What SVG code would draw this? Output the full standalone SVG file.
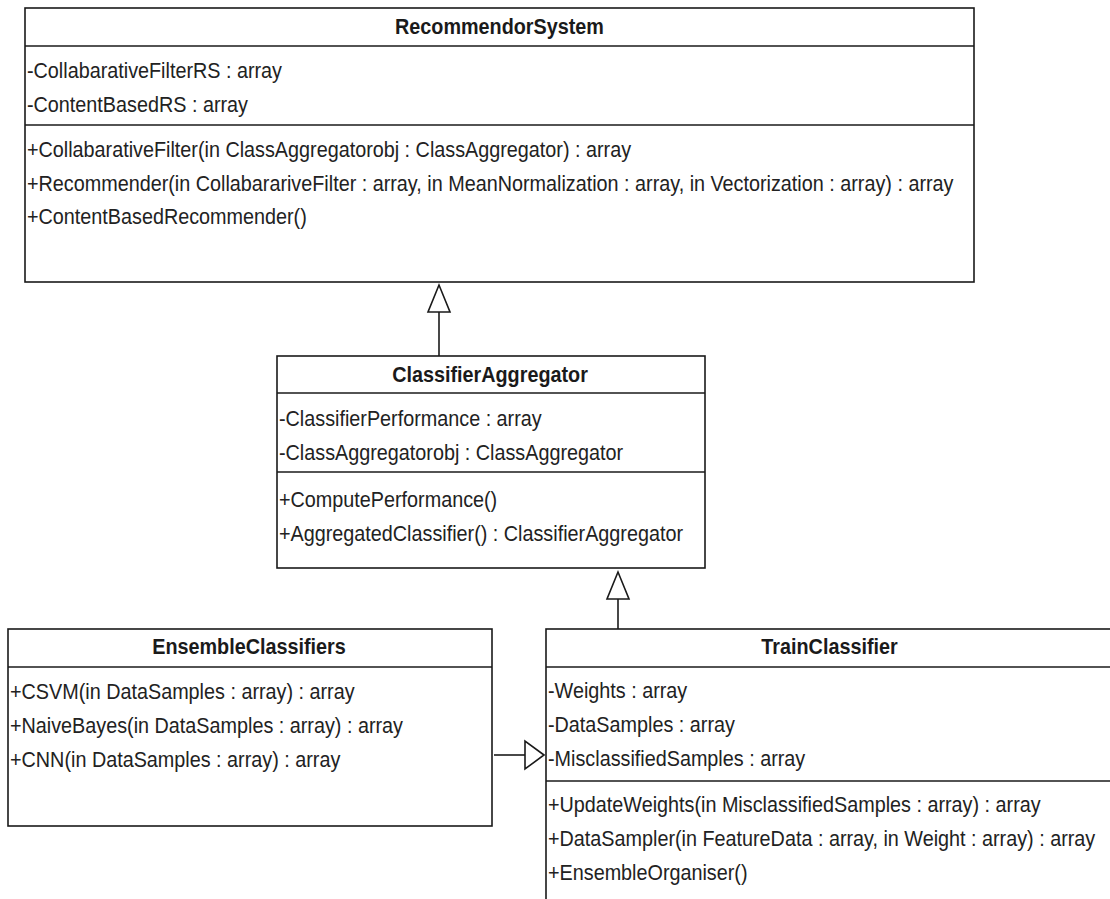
<svg xmlns="http://www.w3.org/2000/svg" width="1110" height="899" viewBox="0 0 1110 899">
<style>
  .box{fill:#fff;stroke:#1a1a1a;stroke-width:1.6}
  .sep{stroke:#1a1a1a;stroke-width:1.6}
  .t{font-family:"Liberation Sans",Arial,sans-serif;font-size:22px;fill:#222}
  .h{font-family:"Liberation Sans",Arial,sans-serif;font-size:22px;font-weight:bold;fill:#1a1a1a;text-anchor:middle}
  .ln{stroke:#1a1a1a;stroke-width:1.6;fill:none}
  .tri{fill:#fff;stroke:#1a1a1a;stroke-width:1.6;stroke-linejoin:miter}
</style>
<rect width="1110" height="899" fill="#fff"/>

<g id="RecommendorSystem">
  <rect class="box" x="25" y="8" width="949" height="274"/>
  <line class="sep" x1="25" y1="46" x2="974" y2="46"/>
  <line class="sep" x1="25" y1="125" x2="974" y2="125"/>
  <text class="h" transform="matrix(0.9 0 0 1 499.5 0)" x="0" y="34">RecommendorSystem</text>
  <text class="t" transform="matrix(0.9 0 0 1 27 0)" x="0" y="78">-CollabarativeFilterRS : array</text>
  <text class="t" transform="matrix(0.9 0 0 1 27 0)" x="0" y="112">-ContentBasedRS : array</text>
  <text class="t" transform="matrix(0.9 0 0 1 27 0)" x="0" y="157">+CollabarativeFilter(in ClassAggregatorobj : ClassAggregator) : array</text>
  <text class="t" transform="matrix(0.9 0 0 1 27 0)" x="0" y="191">+Recommender(in CollabarariveFilter : array, in MeanNormalization : array, in Vectorization : array) : array</text>
  <text class="t" transform="matrix(0.9 0 0 1 27 0)" x="0" y="224">+ContentBasedRecommender()</text>
</g>

<g id="ClassifierAggregator">
  <rect class="box" x="277" y="356" width="428" height="212"/>
  <line class="sep" x1="277" y1="393" x2="705" y2="393"/>
  <line class="sep" x1="277" y1="472" x2="705" y2="472"/>
  <text class="h" transform="matrix(0.9 0 0 1 490 0)" x="0" y="382">ClassifierAggregator</text>
  <text class="t" transform="matrix(0.9 0 0 1 279 0)" x="0" y="426">-ClassifierPerformance : array</text>
  <text class="t" transform="matrix(0.9 0 0 1 279 0)" x="0" y="460">-ClassAggregatorobj : ClassAggregator</text>
  <text class="t" transform="matrix(0.9 0 0 1 279 0)" x="0" y="507">+ComputePerformance()</text>
  <text class="t" transform="matrix(0.9 0 0 1 279 0)" x="0" y="541">+AggregatedClassifier() : ClassifierAggregator</text>
</g>

<g id="EnsembleClassifiers">
  <rect class="box" x="8" y="629" width="484" height="197"/>
  <line class="sep" x1="8" y1="667" x2="492" y2="667"/>
  <text class="h" transform="matrix(0.9 0 0 1 249 0)" x="0" y="654">EnsembleClassifiers</text>
  <text class="t" transform="matrix(0.9 0 0 1 10 0)" x="0" y="699">+CSVM(in DataSamples : array) : array</text>
  <text class="t" transform="matrix(0.9 0 0 1 10 0)" x="0" y="733">+NaiveBayes(in DataSamples : array) : array</text>
  <text class="t" transform="matrix(0.9 0 0 1 10 0)" x="0" y="767">+CNN(in DataSamples : array) : array</text>
</g>

<g id="TrainClassifier">
  <rect class="box" x="546" y="629" width="567" height="300"/>
  <line class="sep" x1="546" y1="667" x2="1113" y2="667"/>
  <line class="sep" x1="546" y1="781" x2="1113" y2="781"/>
  <text class="h" transform="matrix(0.9 0 0 1 829.5 0)" x="0" y="654">TrainClassifier</text>
  <text class="t" transform="matrix(0.9 0 0 1 548 0)" x="0" y="698">-Weights : array</text>
  <text class="t" transform="matrix(0.9 0 0 1 548 0)" x="0" y="732">-DataSamples : array</text>
  <text class="t" transform="matrix(0.9 0 0 1 548 0)" x="0" y="766">-MisclassifiedSamples : array</text>
  <text class="t" transform="matrix(0.9 0 0 1 548 0)" x="0" y="812">+UpdateWeights(in MisclassifiedSamples : array) : array</text>
  <text class="t" transform="matrix(0.9 0 0 1 548 0)" x="0" y="846">+DataSampler(in FeatureData : array, in Weight : array) : array</text>
  <text class="t" transform="matrix(0.9 0 0 1 548 0)" x="0" y="880">+EnsembleOrganiser()</text>
</g>

<g id="connectors">
  <line class="ln" x1="439" y1="356" x2="439" y2="312"/>
  <polygon class="tri" points="439,285 428,312 450,312"/>
  <line class="ln" x1="618" y1="629" x2="618" y2="599"/>
  <polygon class="tri" points="618,572 607,599 629,599"/>
  <line class="ln" x1="494" y1="755" x2="525" y2="755"/>
  <polygon class="tri" points="544,755 525,741 525,769"/>
</g>
</svg>
